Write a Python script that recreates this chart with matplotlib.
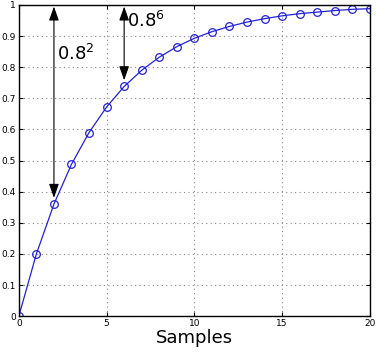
import matplotlib
matplotlib.use('Agg')
import matplotlib.pyplot as plt

# Samples and step response values
samples = list(range(21))
response = [0, 0.2, 0.36, 0.488, 0.59, 0.672, 0.738, 0.79, 0.832, 0.866, 0.893,
            0.914, 0.931, 0.945, 0.956, 0.965, 0.972, 0.977, 0.982, 0.986, 0.988]

fig = plt.figure(figsize=(3.77, 3.54), dpi=100)
ax = fig.add_axes([0.050, 0.107, 0.931, 0.879])

ax.plot(samples, response, color='#2222dd', lw=0.9, marker='o', ms=5.5,
        mfc='none', mec='#2222dd', mew=0.9)

# Arrows showing remaining error
arrow_style = '<|-|>,head_length=0.85,head_width=0.3'
ax.annotate('', xy=(2, 0.38), xytext=(2, 0.995),
            arrowprops=dict(arrowstyle=arrow_style, color='black', lw=0.8,
                            mutation_scale=10, shrinkA=0, shrinkB=0))
ax.annotate('', xy=(6, 0.758), xytext=(6, 0.995),
            arrowprops=dict(arrowstyle=arrow_style, color='black', lw=0.8,
                            mutation_scale=10, shrinkA=0, shrinkB=0))
ax.text(2.15, 0.823, '$\\mathregular{0.8^2}$', fontsize=13)
ax.text(6.15, 0.928, '$\\mathregular{0.8^6}$', fontsize=13)

ax.set_xlim(0, 20)
ax.set_ylim(0, 1)
ax.set_xticks([0, 5, 10, 15, 20])
ax.set_yticks([0, 0.1, 0.2, 0.3, 0.4, 0.5, 0.6, 0.7, 0.8, 0.9, 1])
ax.set_yticklabels(['0', '0.1', '0.2', '0.3', '0.4', '0.5', '0.6', '0.7', '0.8', '0.9', '1'])
ax.tick_params(direction='in', labelsize=6.5, length=3, pad=2, top=True, right=True)
ax.grid(True, linestyle=(0, (1, 3)), color='#888888', lw=0.8)
ax.set_xlabel('Samples', fontsize=13, labelpad=1)
for s in ax.spines.values():
    s.set_linewidth(1.0)

fig.savefig('out.png', dpi=100)
